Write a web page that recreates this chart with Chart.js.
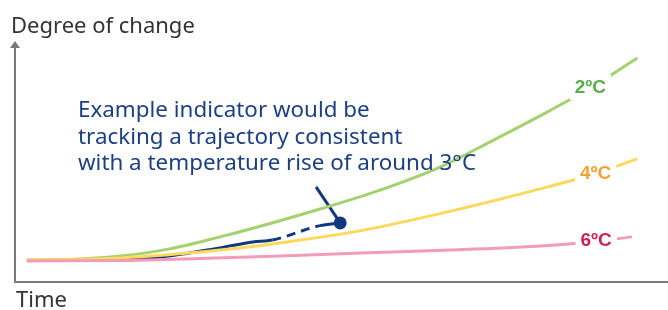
<!DOCTYPE html>
<html>
<head>
<meta charset="utf-8">
<script src="https://cdn.jsdelivr.net/npm/chart.js@4"></script>
<style>
  html, body { margin: 0; padding: 0; background: #fff; }
  canvas { display: block; }
</style>
</head>
<body>
<canvas id="chart" width="668" height="310"></canvas>
<script>
// time axis (0..100) and degree of change (0..100)
const greenTime = [1.8, 8.4, 16.1, 23.7, 31.4, 39.1, 46.7, 55.9, 65.1, 72.7, 80.4, 88.1, 95.3];
const rise2C = [9.2, 9.4, 10.8, 13.8, 18.8, 24.4, 30.4, 38.3, 47.9, 58.3, 69.2, 80.8, 93.3];
const yellowTime = [1.8, 16.1, 31.4, 41.7, 52.8, 68.1, 80.4, 88.1, 95.3];
const rise4C = [9.2, 10.0, 13.3, 16.7, 21.3, 30.4, 38.8, 44.6, 51.3];
const pinkTime = [1.8, 16.1, 28.3, 40.6, 52.8, 66.6, 80.4, 88.1, 94.5];
const rise6C = [8.8, 9.0, 9.8, 10.8, 12.1, 13.3, 15.0, 16.7, 18.8];

const indicatorTime = [16.1, 22.2, 31.4, 36.4, 39.4, 46.7, 49.8];
const indicatorValue = [9.6, 10.4, 14.2, 16.7, 17.5, 23.5, 24.6];
const dashedFrom = 4; // segment index where the projection starts
const dashedTo = 5;

const pointerTime = [46.1, 49.8];
const pointerValue = [39.6, 24.6];

const scenarioLabels = ['2ºC', '4ºC', '6ºC'];
const labelTime = [88.1, 88.9, 89.0];
const labelValue = [81.3, 45.4, 17.5];
const labelColors = ['#5aae4a', '#f7a233', '#d21f5b'];

const noteLines = [
    'Example indicator would be',
    'tracking a trajectory consistent',
    'with a temperature rise of around 3°C'
];

const toXY = (xs, ys) => xs.map((x, i) => ({ x: x, y: ys[i] }));

const decorations = {
    id: 'decorations',
    afterDatasetsDraw(chart) {
        const ctx = chart.ctx;
        const area = chart.chartArea;
        const xs = chart.scales.x;
        const ys = chart.scales.y;
        ctx.save();

        // axes
        ctx.strokeStyle = '#7a7a7a';
        ctx.lineWidth = 2;
        ctx.beginPath();
        ctx.moveTo(area.left, area.top + 4);
        ctx.lineTo(area.left, area.bottom);
        ctx.lineTo(area.right, area.bottom);
        ctx.stroke();
        ctx.fillStyle = '#7a7a7a';
        ctx.beginPath();
        ctx.moveTo(area.left, area.top - 1);
        ctx.lineTo(area.left - 5, area.top + 6);
        ctx.lineTo(area.left + 5, area.top + 6);
        ctx.closePath();
        ctx.fill();

        // axis titles
        ctx.fillStyle = '#333';
        ctx.font = '22px "Noto Sans"';
        ctx.textBaseline = 'alphabetic';
        ctx.textAlign = 'left';
        ctx.fillText('Degree of change', 11, 33);
        ctx.fillText('Time', 16, 307);

        // annotation
        ctx.fillStyle = '#1d3f83';
        ctx.font = '22.4px "Noto Sans"';
        noteLines.forEach((line, i) => {
            ctx.fillText(line, 78, 117 + i * 26.5);
        });

        // scenario labels, with a white gap cut into the line
        ctx.font = 'bold 19px "Liberation Sans"';
        ctx.textAlign = 'center';
        ctx.textBaseline = 'middle';
        scenarioLabels.forEach((label, i) => {
            const px = xs.getPixelForValue(labelTime[i]);
            const py = ys.getPixelForValue(labelValue[i]);
            const w = ctx.measureText(label).width + 10;
            ctx.fillStyle = '#fff';
            ctx.fillRect(px - w / 2, py - 13, w, 26);
            ctx.fillStyle = labelColors[i];
            ctx.fillText(label, px, py + 1);
        });
        ctx.restore();
    }
};

const curve = { borderWidth: 3, cubicInterpolationMode: 'monotone', pointRadius: 0 };

new Chart(document.getElementById('chart'), {
    type: 'line',
    data: {
        datasets: [
            { ...curve, data: toXY(pinkTime, rise6C), borderColor: '#f39bbb' },
            { ...curve, data: toXY(yellowTime, rise4C), borderColor: '#fdd85d' },
            { ...curve, data: toXY(greenTime, rise2C), borderColor: '#a5d16f' },
            {
                data: toXY(indicatorTime, indicatorValue),
                borderColor: '#12387f',
                backgroundColor: '#12387f',
                borderWidth: 3,
                cubicInterpolationMode: 'monotone',
                pointRadius: indicatorTime.map((_, i) => i === indicatorTime.length - 1 ? 5 : 0),
                segment: {
                    borderDash: c => (c.p0DataIndex >= dashedFrom && c.p0DataIndex < dashedTo) ? [9, 6] : undefined
                }
            },
            {
                data: toXY(pointerTime, pointerValue),
                borderColor: '#12387f',
                borderWidth: 3,
                pointRadius: 0
            }
        ]
    },
    options: {
        responsive: false,
        animation: false,
        layout: { autoPadding: false, padding: { left: 15, right: 0, top: 42, bottom: 28 } },
        plugins: {
            legend: { display: false },
            tooltip: { enabled: false }
        },
        scales: {
            x: { type: 'linear', min: 0, max: 100, display: false },
            y: { min: 0, max: 100, display: false }
        }
    },
    plugins: [decorations]
});
</script>
</body>
</html>
